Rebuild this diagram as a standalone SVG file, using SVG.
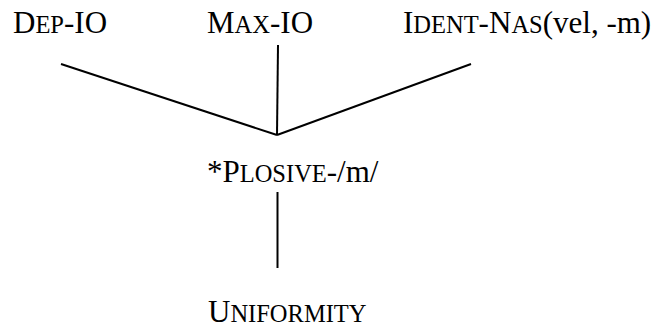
<svg xmlns="http://www.w3.org/2000/svg" width="659" height="328" viewBox="0 0 659 328">
<rect width="659" height="328" fill="#fff"/>
<g id="dep-io">
<text font-family="Liberation Serif" font-size="31" x="13" y="33">D</text>
<text font-family="Liberation Serif" font-size="24.5" x="35.4" y="33">EP</text>
<text font-family="Liberation Serif" font-size="31" x="64" y="33">-IO</text>
</g>
<g id="max-io">
<text font-family="Liberation Serif" font-size="31" x="207" y="33">M</text>
<text font-family="Liberation Serif" font-size="24.5" x="234.6" y="33">AX</text>
<text font-family="Liberation Serif" font-size="31" x="270" y="33">-IO</text>
</g>
<g id="ident-nas">
<text font-family="Liberation Serif" font-size="31" x="403" y="33">I</text>
<text font-family="Liberation Serif" font-size="24.5" x="413.3" y="33">DENT</text>
<text font-family="Liberation Serif" font-size="31" x="478.6" y="33">-N</text>
<text font-family="Liberation Serif" font-size="24.5" x="511.4" y="33">AS</text>
<text font-family="Liberation Serif" font-size="31" x="542.7" y="33">(vel, -m)</text>
</g>
<g id="plosive">
<text font-family="Liberation Serif" font-size="31" x="207" y="182">*P</text>
<text font-family="Liberation Serif" font-size="24.5" x="239.7" y="182">LOSIVE</text>
<text font-family="Liberation Serif" font-size="31" x="326.8" y="182">-/m/</text>
</g>
<g id="uniformity">
<text font-family="Liberation Serif" font-size="31" x="208" y="322">U</text>
<text font-family="Liberation Serif" font-size="24.5" x="230.4" y="322">NIFORMITY</text>
</g>
<g id="connectors" stroke="#000" stroke-width="2">
<line x1="61" y1="64" x2="277" y2="135"/>
<line x1="278" y1="45" x2="277" y2="135"/>
<line x1="471" y1="64" x2="277" y2="135"/>
<line x1="277.5" y1="192" x2="277.5" y2="268"/>
</g>
</svg>
